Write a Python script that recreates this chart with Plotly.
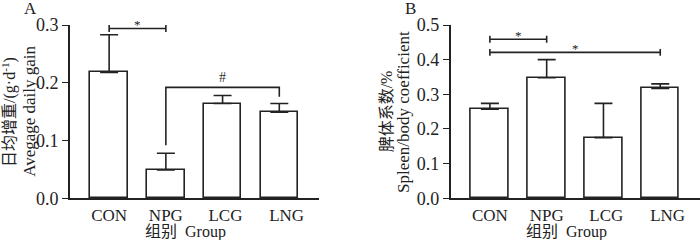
import plotly.graph_objects as go

# ---------------- data ----------------
groups = ["CON", "NPG", "LCG", "LNG"]
adg_mean = [0.218, 0.049, 0.164, 0.149]          # Avegage daily gain (g/d)
adg_err = [0.065, 0.029, 0.014, 0.015]
spleen_mean = [0.257, 0.348, 0.175, 0.317]       # Spleen/body coefficient (%)
spleen_err = [0.017, 0.052, 0.099, 0.013]
yticks_a = [0.0, 0.1, 0.2, 0.3]
yticks_b = [0.0, 0.1, 0.2, 0.3, 0.4, 0.5]

# significance marks: (from group, to group, height, symbol)
sig_a = [(0, 1, 0.294, "*")]
sig_hash_a = (1, 3, 0.192, 0.092, 0.176, "#")
sig_b = [(0, 1, 0.459, "*"), (0, 3, 0.421, "*")]

# ---------------- style ----------------
LINE = "#222222"
SERIF = "Liberation Serif, Times New Roman, Noto Sans CJK SC, serif"
MIXED = "Liberation Serif, Noto Sans CJK SC, serif"
xpos = list(range(len(groups)))
tick_pos = [0, 1, 2.05, 3.13]   # tick label placement as in the original figure
XRANGE = [-0.69, 3.7]

fig = go.Figure()

def add_bars(xa, ya, means, errs):
    fig.add_trace(go.Bar(
        x=xpos, y=means, xaxis=xa, yaxis=ya, width=0.66,
        marker=dict(color="white", line=dict(color=LINE, width=1.6)),
        error_y=dict(type="data", array=errs, arrayminus=[0] * len(errs),
                     symmetric=False, color=LINE, thickness=1.6, width=9),
        showlegend=False, hoverinfo="skip"))

add_bars("x", "y", adg_mean, adg_err)
add_bars("x2", "y2", spleen_mean, spleen_err)

ydom = [1 - 198.3 / 240, 1 - 25 / 240]
xdom_a = [70 / 700, 319 / 700]
xdom_b = [450.7 / 700, 1.0]

# label axes (no tick marks, so labels sit close to the axis line)
common_x = dict(showline=True, linecolor=LINE, linewidth=1.6, ticks="",
                showgrid=False, zeroline=False, range=XRANGE, tickvals=tick_pos,
                automargin=False, ticktext=groups,
                tickfont=dict(family=SERIF, size=17, color="#222"))
# tick-mark-only overlay axes
tick_x = dict(showline=False, ticks="outside", ticklen=5, tickwidth=1.4, tickcolor=LINE,
              showgrid=False, zeroline=False, range=XRANGE, tickvals=tick_pos,
              showticklabels=False, automargin=False)
common_y = dict(showline=True, linecolor=LINE, linewidth=1.6, ticks="outside",
                ticklen=6, tickwidth=1.4, tickcolor=LINE, showgrid=False, automargin=False,
                zeroline=False, tickformat=".1f", domain=ydom,
                tickfont=dict(family=SERIF, size=18, color="#222"))

fig.update_layout(
    width=700, height=240, margin=dict(l=0, r=0, t=0, b=0, pad=0),
    paper_bgcolor="white", plot_bgcolor="white", bargap=0,
    xaxis=dict(domain=xdom_a, anchor="y", **common_x),
    yaxis=dict(range=[0, 0.3], tickvals=yticks_a, anchor="x", **common_y),
    xaxis2=dict(domain=xdom_b, anchor="y2", **common_x),
    yaxis2=dict(range=[0, 0.5], tickvals=yticks_b, anchor="x2", **common_y),
    xaxis3=dict(domain=xdom_a, anchor="y", overlaying="x", **tick_x),
    xaxis4=dict(domain=xdom_b, anchor="y2", overlaying="x2", **tick_x),
)

shapes = []
ann = []

def bracket(xr, yr, x0, x1, h, cap, sym, shift):
    shapes.append(dict(type="line", xref=xr, yref=yr, x0=x0, x1=x1, y0=h, y1=h,
                       line=dict(color=LINE, width=1.6)))
    for xx in (x0, x1):
        shapes.append(dict(type="line", xref=xr, yref=yr, x0=xx, x1=xx,
                           y0=h - cap, y1=h + cap, line=dict(color=LINE, width=1.6)))
    ann.append(dict(xref=xr, yref=yr, x=(x0 + x1) / 2, y=h, text=sym,
                    showarrow=False, xanchor="center", yanchor="middle", yshift=shift,
                    font=dict(family=SERIF, size=13, color="#222")))

for a, b, h, s in sig_a:
    bracket("x", "y", a, b, h, 0.006, s, 4)
for a, b, h, s in sig_b:
    bracket("x2", "y2", a, b, h, 0.01, s, 4)

a, b, h, yl, yr_, s = sig_hash_a
shapes.append(dict(type="path", xref="x", yref="y",
                   path=f"M {a},{yl} L {a},{h} L {b},{h} L {b},{yr_}",
                   line=dict(color=LINE, width=1.6)))
ann.append(dict(xref="x", yref="y", x=(a + b) / 2, y=h, text=s, showarrow=False,
                xanchor="center", yanchor="middle", yshift=10,
                font=dict(family=SERIF, size=14, color="#333")))

ymid = (ydom[0] + ydom[1]) / 2
txt = dict(showarrow=False, xref="paper", yref="paper", xanchor="center", yanchor="middle")
ann += [
    dict(x=30 / 700, y=1 - 9 / 240, text="A", font=dict(family=SERIF, size=17, color="#222"), **txt),
    dict(x=410.7 / 700, y=1 - 9 / 240, text="B", font=dict(family=SERIF, size=17, color="#222"), **txt),
    dict(x=9.3 / 700, y=ymid, text="日均增重/(g·d<sup>-1</sup>)", textangle=-90,
         font=dict(family=MIXED, size=16, color="#222"), **txt),
    dict(x=29.2 / 700, y=ymid, text="Avegage daily gain", textangle=-90,
         font=dict(family=SERIF, size=17, color="#222"), **txt),
    dict(x=386.7 / 700, y=ymid, text="脾体系数/%", textangle=-90,
         font=dict(family=MIXED, size=16, color="#222"), **txt),
    dict(x=403.3 / 700, y=ymid, text="Spleen/body coefficient", textangle=-90,
         font=dict(family=SERIF, size=17, color="#222"), **txt),
    dict(xref="x", yref="paper", x=1.35, y=1 - 231.5 / 240, text="组别  Group",
         showarrow=False, xanchor="center", yanchor="middle",
         font=dict(family=MIXED, size=16, color="#222")),
    dict(xref="x2", yref="paper", x=1.35, y=1 - 231.5 / 240, text="组别  Group",
         showarrow=False, xanchor="center", yanchor="middle",
         font=dict(family=MIXED, size=16, color="#222")),
]

fig.update_layout(shapes=shapes, annotations=ann)
fig.write_html("out.html", config={"displayModeBar": False},
               post_script="document.body.style.margin='0';document.body.style.overflow='hidden';")
